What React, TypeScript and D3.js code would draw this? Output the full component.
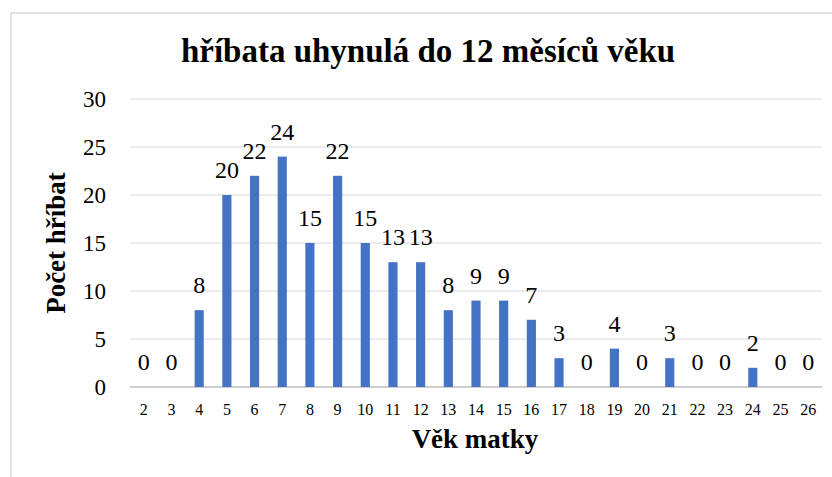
import React from "react";
import * as d3 from "d3";

const categories = ["2","3","4","5","6","7","8","9","10","11","12","13","14","15","16","17","18","19","20","21","22","23","24","25","26"];
const values = [0,0,8,20,22,24,15,22,15,13,13,8,9,9,7,3,0,4,0,3,0,0,2,0,0];
const yTicks = [0,5,10,15,20,25,30];
const title = "hříbata uhynulá do 12 měsíců věku";
const xTitle = "Věk matky";
const yTitle = "Počet hříbat";

export default function App() {
  const W = 832, H = 477;
  const left = 130, right = 822, top = 99, bottom = 387;
  const x = d3.scaleBand<string>().domain(categories).range([left, right]).paddingInner(0.67).paddingOuter(0.335);
  const y = d3.scaleLinear().domain([0, 30]).range([bottom, top]);
  const font = "'Liberation Serif', 'Times New Roman', serif";
  return (
    <svg width={W} height={H} style={{ position: "absolute", left: 0, top: 0, background: "#fff" }} fontFamily={font}>
      <rect x={0} y={0} width={W} height={H} fill="#fff" />
      <line x1={11} y1={13} x2={W} y2={13} stroke="#d9d9d9" strokeWidth={1.5} />
      <line x1={11} y1={13} x2={11} y2={H} stroke="#d9d9d9" strokeWidth={1.5} />
      <text x={428} y={62} textAnchor="middle" fontWeight="bold" fontSize={33}>{title}</text>
      {yTicks.map(t => (
        <g key={t}>
          <line x1={left} x2={right} y1={y(t)} y2={y(t)} stroke={t === 0 ? "#bfbfbf" : "#d9d9d9"} strokeWidth={t === 0 ? 1.5 : 1.2} />
          <text x={106} y={y(t) + 8} textAnchor="end" fontSize={23}>{t}</text>
        </g>
      ))}
      {categories.map((c, i) => (
        <g key={c}>
          {values[i] > 0 && (
            <rect x={x(c)} y={y(values[i])} width={x.bandwidth()} height={bottom - y(values[i])} fill="#4472C4" />
          )}
          <text x={(x(c) as number) + x.bandwidth() / 2} y={y(values[i]) - 17} textAnchor="middle" fontSize={24}>{values[i]}</text>
          <text x={(x(c) as number) + x.bandwidth() / 2} y={415} textAnchor="middle" fontSize={16}>{c}</text>
        </g>
      ))}
      <text x={475} y={448} textAnchor="middle" fontWeight="bold" fontSize={27}>{xTitle}</text>
      <text transform={`translate(65,243) rotate(-90)`} textAnchor="middle" fontWeight="bold" fontSize={27}>{yTitle}</text>
    </svg>
  );
}
